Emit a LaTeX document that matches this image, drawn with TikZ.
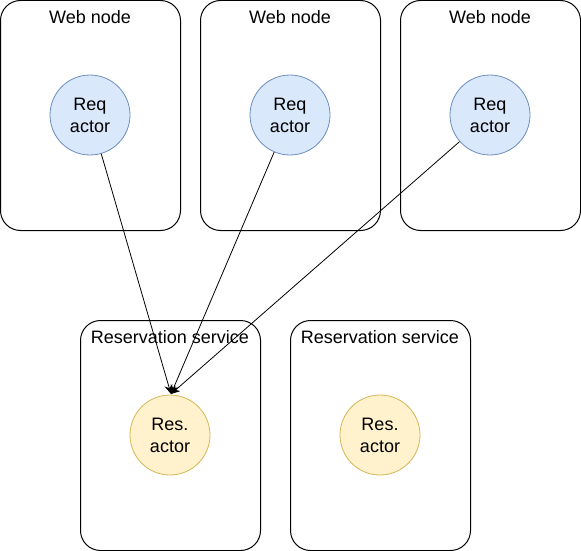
\documentclass[tikz,border=0pt]{standalone}
\usepackage{fontspec}
\setmainfont{Liberation Sans}
\usetikzlibrary{arrows.meta}
\definecolor{reqfill}{HTML}{DAE8FC}
\definecolor{reqdraw}{HTML}{6C8EBF}
\definecolor{resfill}{HTML}{FFF2CC}
\definecolor{resdraw}{HTML}{D6B656}
\tikzset{
  box/.style={draw=black, line width=1pt, rounded corners=20pt, anchor=north west},
  lbl/.style={font=\fontsize{18}{21.6}\selectfont, anchor=center, inner sep=0pt},
  req/.style={circle, draw=reqdraw, fill=reqfill, line width=0.8pt, minimum size=80pt, inner sep=0pt, align=center, font=\fontsize{18}{22}\selectfont},
  res/.style={circle, draw=resdraw, fill=resfill, line width=0.8pt, minimum size=80pt, inner sep=0pt, align=center, font=\fontsize{18}{22}\selectfont},
  conn/.style={draw=black, line width=0.8pt, -{Stealth[length=9pt,width=8pt]}}
}
\begin{document}
\begin{tikzpicture}[x=1pt,y=-1pt]
\useasboundingbox (0,0) rectangle (581,551);
% web node boxes
\draw[black, line width=1pt, rounded corners=20pt] (0.5,0.5) rectangle (180.5,230.5);
\draw[black, line width=1pt, rounded corners=20pt] (200.5,0.5) rectangle (380.5,230.5);
\draw[black, line width=1pt, rounded corners=20pt] (400.5,0.5) rectangle (580.5,230.5);
\node[lbl] (w1) at (90,17) {Web node};
\node[lbl] (w2) at (290,17) {Web node};
\node[lbl] (w3) at (490,17) {Web node};
% reservation boxes
\draw[black, line width=1pt, rounded corners=20pt] (80.5,320.5) rectangle (260.5,550.5);
\draw[black, line width=1pt, rounded corners=20pt] (290.5,320.5) rectangle (470.5,550.5);
\node[lbl] (s1) at (170,337) {Reservation service};
\node[lbl] (s2) at (380,337) {Reservation service};
% actors
\node[req] (r1) at (90,115) {Req\\actor};
\node[req] (r2) at (290,115) {Req\\actor};
\node[req] (r3) at (490,115) {Req\\actor};
\node[res] (a1) at (170,435) {Res.\\actor};
\node[res] (a2) at (380,435) {Res.\\actor};
\coordinate (t) at (171,394);
\draw[conn] (r1) -- (t);
\draw[conn] (r2) -- (t);
\draw[conn] (r3) -- (t);
\end{tikzpicture}
\end{document}
